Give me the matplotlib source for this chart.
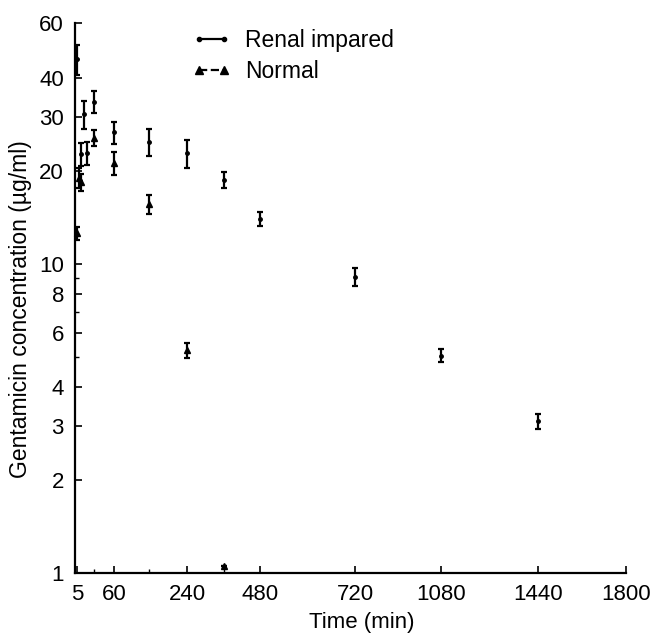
import numpy as np
import matplotlib
matplotlib.use("Agg")
import matplotlib.pyplot as plt
from matplotlib.lines import Line2D

plt.rcParams['font.family'] = ['Liberation Sans', 'DejaVu Sans']

# ---- data ----
renal_t = [5, 10, 15, 20, 30, 60, 120, 240, 360, 480, 720, 1080, 1440]
renal_v = [46, 22.7, 30.5, 22.9, 33.5, 26.7, 24.8, 22.8, 18.7, 14.0, 9.1, 5.05, 3.1]
renal_e = [5, 2.0, 3.2, 2.0, 2.8, 2.2, 2.5, 2.3, 1.1, 0.7, 0.6, 0.25, 0.17]

normal_t = [5, 7, 10, 30, 60, 120, 240, 360]
normal_v = [12.6, 19.0, 18.4, 25.6, 21.2, 15.6, 5.27, 1.05]
normal_e = [0.6, 1.4, 1.2, 1.5, 1.8, 1.1, 0.3, 0.0]

x_ticks = [5, 60, 240, 480, 720, 1080, 1440, 1800]
y_ticks = [1, 2, 3, 4, 6, 8, 10, 20, 30, 40, 60]

# axis of the original is hand-drawn with uneven spacing: piecewise scale
scale_vals = [0, 5, 10, 15, 20, 30, 60, 120, 240, 360, 480, 720, 1080, 1440, 1800, 2000]
scale_pos = [72, 77, 81, 84, 87, 94, 114, 149, 187, 224, 260, 355, 441, 538, 626, 678]

def fwd(x):
    return np.interp(x, scale_vals, scale_pos)

def inv(p):
    return np.interp(p, scale_pos, scale_vals)

W, H = 653, 637
fig = plt.figure(figsize=(W / 100, H / 100), dpi=100)
ax = fig.add_axes([75 / W, (H - 573) / H, (626 - 75) / W, (573 - 23.5) / H])

ax.set_xscale('function', functions=(fwd, inv))
ax.set_yscale('log')
ax.set_xlim(inv(75), 1800)
ax.set_ylim(1, 60)

ax.errorbar(renal_t, renal_v, yerr=renal_e, fmt='o', ms=2.5, color='black',
            ecolor='black', elinewidth=1.6, capsize=2.2, capthick=1.6, clip_on=False)
ax.errorbar(normal_t, normal_v, yerr=normal_e, fmt='^', ms=5, color='black',
            ecolor='black', elinewidth=1.6, capsize=2.2, capthick=1.6, clip_on=False)

for s in ['top', 'right']:
    ax.spines[s].set_visible(False)
for s in ['left', 'bottom']:
    ax.spines[s].set_linewidth(1.6)

ax.set_xticks(x_ticks)
ax.set_xticklabels([str(t) for t in x_ticks])
ax.set_xticks([30, 120, 360], minor=True)
ax.set_yticks(y_ticks)
ax.set_yticklabels([str(t) for t in y_ticks])
ax.set_yticks([5, 7, 9], minor=True)
ax.yaxis.set_minor_formatter(plt.NullFormatter())
ax.xaxis.set_minor_formatter(plt.NullFormatter())
ax.tick_params(axis='both', which='major', direction='in', length=5, width=1.2,
               labelsize=16)
ax.tick_params(axis='x', which='major', pad=8)
ax.tick_params(axis='y', which='major', pad=8)
ax.tick_params(axis='both', which='minor', direction='in', length=3, width=1.0)

ax.set_ylabel('Gentamicin concentration (µg/ml)', fontsize=16.5)
ax.yaxis.set_label_coords(-43 / 551, 1 - (309 - 23.5) / 549.5)
ax.set_xlabel('Time (min)', fontsize=16)
ax.xaxis.set_label_coords((362 - 75) / 551, -(612 - 573) / 549.5)

handles = [
    Line2D([0], [0], color='black', lw=1.6, ls='-', marker='o', ms=3),
    Line2D([0], [0], color='black', lw=1.6, ls='--', marker='^', ms=6),
]
leg = ax.legend(handles, ['Renal impared', 'Normal'], loc='center left',
                bbox_to_anchor=((192 - 75) / 551, 1 - (56 - 23.5) / 549.5),
                frameon=False, fontsize=16.5, numpoints=2, handlelength=1.7,
                handletextpad=0.6, labelspacing=0.35, borderpad=0, borderaxespad=0)

fig.savefig('out.png', dpi=100)
